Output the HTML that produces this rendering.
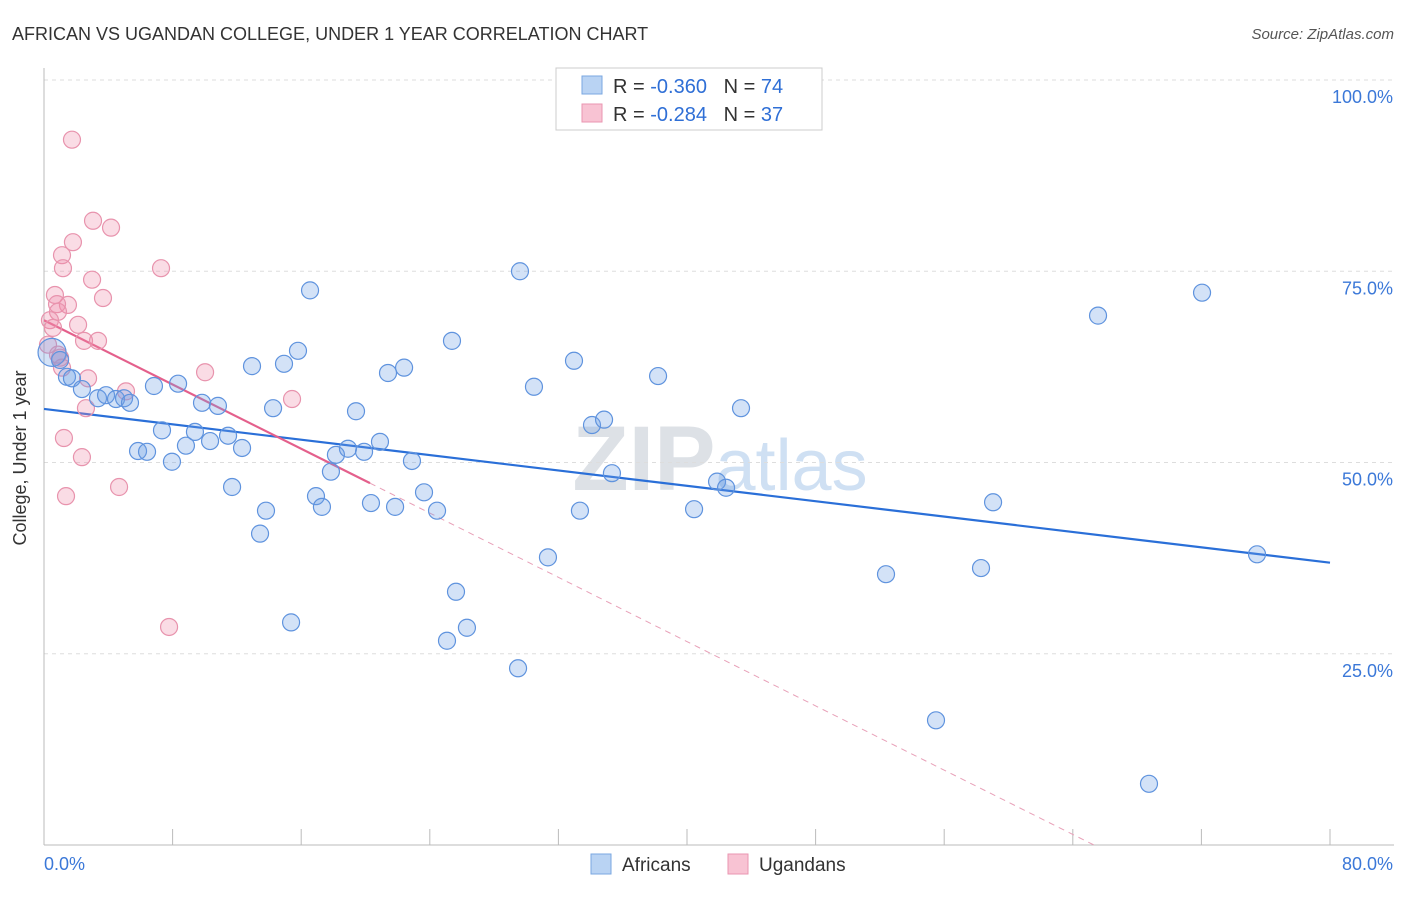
<!DOCTYPE html>
<html><head><meta charset="utf-8"><style>
body{margin:0;background:#fff;font-family:"Liberation Sans",sans-serif}
svg text{font-family:"Liberation Sans",sans-serif}
</style></head><body>
<svg id="c" width="1406" height="892" xmlns="http://www.w3.org/2000/svg">
<text x="12" y="40" font-size="18" fill="#333">AFRICAN VS UGANDAN COLLEGE, UNDER 1 YEAR CORRELATION CHART</text>
<text x="1394" y="39" font-size="15" fill="#555" font-style="italic" text-anchor="end">Source: ZipAtlas.com</text>
<text x="720" y="490" font-size="92" fill="#e4e8ee" text-anchor="middle" font-family="Liberation Serif"><tspan font-weight="bold" fill="#dde1e6">ZIP</tspan><tspan fill="#cfe0f3" font-family="Liberation Sans" font-size="72">atlas</tspan></text>
<g id="grid"></g><g id="axes"></g><g id="lines"></g><g id="pts"></g>
<text x="26" y="458" font-size="18" fill="#333" text-anchor="middle" transform="rotate(-90 26 458)">College, Under 1 year</text>
<g>
<rect x="556" y="68" width="266" height="62" fill="#fff" stroke="#ccc"/>
<rect x="582" y="76" width="20" height="18" fill="#b9d3f3" stroke="#7aa7e0"/>
<rect x="582" y="104" width="20" height="18" fill="#f8c3d3" stroke="#ea96b0"/>
<text x="613" y="93" font-size="20" fill="#333">R = <tspan fill="#2f6fd6">-0.360</tspan>&#160;&#160;&#160;N = <tspan fill="#2f6fd6">74</tspan></text>
<text x="613" y="121" font-size="20" fill="#333">R = <tspan fill="#2f6fd6">-0.284</tspan>&#160;&#160;&#160;N = <tspan fill="#2f6fd6">37</tspan></text>
</g>
<g>
<rect x="591" y="854" width="20" height="20" fill="#b9d3f3" stroke="#7aa7e0"/>
<text x="622" y="871" font-size="19" fill="#333">Africans</text>
<rect x="728" y="854" width="20" height="20" fill="#f8c3d3" stroke="#ea96b0"/>
<text x="759" y="871" font-size="19" fill="#333">Ugandans</text>
</g>
</svg>
<script>
const yTicks=[100,75,50,25];
const yTickLabels=["100.0%","75.0%","50.0%","25.0%"];
const xTicks=[0,8,16,24,32,40,48,56,64,72,80];
const africansX=[0.5,1.43,1.74,2.36,3.36,3.86,4.48,4.98,5.35,5.85,6.41,6.84,7.34,7.96,8.34,8.83,9.39,9.83,10.33,10.82,11.45,11.7,12.32,12.94,13.81,13.44,14.25,14.93,15.37,15.8,16.55,16.92,17.29,17.85,18.16,18.91,19.41,19.91,20.34,20.9,21.4,21.84,22.4,22.89,23.64,24.45,25.38,25.63,25.07,26.31,29.49,29.61,30.48,31.35,32.97,33.34,34.09,34.84,35.33,38.2,40.44,41.87,42.43,43.36,52.38,55.49,58.29,59.04,65.57,68.74,72.04,75.46,1.0];
const africansY=[64.4,61.2,61.0,59.6,58.4,58.8,58.3,58.4,57.8,51.5,51.4,60.0,54.2,50.1,60.3,52.2,54.0,57.8,52.8,57.4,53.5,46.8,51.9,62.6,43.7,40.7,57.1,62.9,29.1,64.6,72.5,45.6,44.2,48.8,51.0,51.8,56.7,51.4,44.7,52.7,61.7,44.2,62.4,50.2,46.1,43.7,65.9,33.1,26.7,28.4,23.1,75.0,59.9,37.6,63.3,43.7,54.9,55.6,48.6,61.3,43.9,47.5,46.7,57.1,35.4,16.3,36.2,44.8,69.2,8.0,72.2,38.0,63.4];
const ugandansX=[1.74,3.05,4.17,1.8,1.12,1.18,7.28,2.99,3.67,0.68,1.49,0.81,0.87,0.37,0.56,2.12,2.49,3.36,0.25,0.87,1.12,2.74,5.1,10.02,15.43,2.61,1.24,2.36,4.67,1.37,7.78,1.0];
const ugandansY=[92.2,81.6,80.7,78.8,77.1,75.4,75.4,73.9,71.5,71.9,70.6,70.7,69.7,68.6,67.6,68.0,65.9,65.9,65.4,64.1,62.4,61.0,59.3,61.8,58.3,57.1,53.2,50.7,46.8,45.6,28.5,63.7];
const blueFit=[57.0,36.9]; // y at x=0 and x=80
const pinkFit=[68.6,47.3,20.28]; // y at 0, y at end, solid end x
const NS="http://www.w3.org/2000/svg";
const X=v=>44+v*16.075, Y=v=>845-v*7.65;
function mk(tag,attrs,parent){const e=document.createElementNS(NS,tag);for(const k in attrs)e.setAttribute(k,attrs[k]);document.getElementById(parent).appendChild(e);return e;}
yTicks.forEach((t,i)=>{
 const g=mk('line',{x1:44,x2:1394,y1:Y(t),y2:Y(t),stroke:'#ddd','stroke-dasharray':'4,4'},'grid');
 
 
 const l=mk('text',{x:1393,y:Y(t)+23,'font-size':18,fill:'#3b78d8','text-anchor':'end'},'grid');l.textContent=yTickLabels[i];
 
 
});
mk('line',{x1:44,x2:1394,y1:Y(100),y2:Y(100),stroke:'#ddd','stroke-dasharray':'4,4'},'grid');
mk('line',{x1:44,x2:44,y1:68,y2:845,stroke:'#bbb'},'axes');
mk('line',{x1:44,x2:1394,y1:845,y2:845,stroke:'#bbb'},'axes');
xTicks.forEach(t=>{const e=mk('line',{x1:X(t),x2:X(t),y1:829,y2:845,stroke:'#bbb'},'axes');
 
 });
let t0=mk('text',{x:44,y:870,'font-size':18,fill:'#3b78d8'},'axes');t0.textContent='0.0%';


let t1=mk('text',{x:1393,y:870,'font-size':18,fill:'#3b78d8','text-anchor':'end'},'axes');t1.textContent='80.0%';


function pts(xs,ys,fill,stroke,name){xs.forEach((x,i)=>{const c=mk('circle',{cx:X(x),cy:Y(ys[i]),r:(i===0&&name==='african-point')?14:8.5,fill:fill,stroke:stroke,'stroke-width':1.2},'pts');
 
 });}
pts(ugandansX,ugandansY,'rgba(240,140,170,0.3)','#e893ad','ugandan-point');
pts(africansX,africansY,'rgba(110,160,230,0.3)','#5f93de','african-point');
const pslope=(pinkFit[1]-pinkFit[0])/pinkFit[2];
const zeroX=-pinkFit[0]/pslope;
const pd=mk('line',{x1:X(pinkFit[2]),y1:Y(pinkFit[1]),x2:X(zeroX),y2:Y(0),stroke:'#e8a0b8','stroke-dasharray':'6,5'},'lines');


const bl=mk('line',{x1:X(0),y1:Y(blueFit[0]),x2:X(80),y2:Y(blueFit[1]),stroke:'#2a6fd8','stroke-width':2.2},'lines');


const pl=mk('line',{x1:X(0),y1:Y(pinkFit[0]),x2:X(pinkFit[2]),y2:Y(pinkFit[1]),stroke:'#e4608c','stroke-width':2.2},'lines');


</script>
</body></html>
